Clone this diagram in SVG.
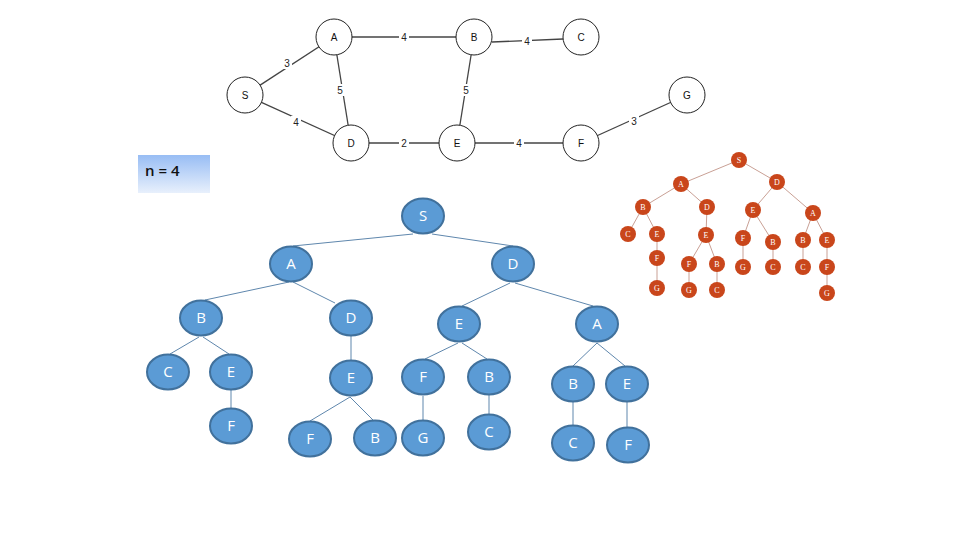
<svg xmlns="http://www.w3.org/2000/svg" width="960" height="540" viewBox="0 0 960 540">
<defs>
<linearGradient id="nbox" x1="0" y1="0" x2="0" y2="1">
<stop offset="0" stop-color="#98bdf4"/>
<stop offset="1" stop-color="#e8f0fc"/>
</linearGradient>
<style>
.gn circle{fill:#fff;stroke:#222;stroke-width:1}
.gn text{font-family:"Liberation Sans",Arial,sans-serif;font-size:10px;fill:#111;text-anchor:middle}
.ge line{stroke:#444;stroke-width:1.3}
.wl rect{fill:#fff}
.wl text{font-family:"Liberation Sans",Arial,sans-serif;font-size:10px;fill:#222;text-anchor:middle}
.bn ellipse{fill:#5b9bd5;stroke:#41719c;stroke-width:2}
.bn text{font-family:"Open Sans","Liberation Sans",sans-serif;font-size:15px;fill:#fff;text-anchor:middle}
.be line{stroke:#5f87ad;stroke-width:1}
.rn circle{fill:#c9461b}
.rn text{font-family:"Liberation Serif",serif;font-size:8px;fill:#fff;text-anchor:middle}
.re line{stroke:#c9a095;stroke-width:1}
</style>
</defs>
<rect width="960" height="540" fill="#fff"/>

<g id="graph-edges" class="ge">
<line x1="245" y1="95" x2="334" y2="37"/>
<line x1="334" y1="37" x2="474" y2="37"/>
<line x1="492" y1="42" x2="563" y2="39"/>
<line x1="334" y1="37" x2="351" y2="143"/>
<line x1="245" y1="95" x2="351" y2="143"/>
<line x1="474" y1="37" x2="457" y2="143"/>
<line x1="351" y1="143" x2="457" y2="143"/>
<line x1="457" y1="143" x2="581" y2="143"/>
<line x1="581" y1="143" x2="687" y2="95"/>
</g>
<g id="graph-weights" class="wl">
<rect x="282" y="57" width="10" height="12"/><text x="287" y="67">3</text>
<rect x="399" y="31" width="10" height="12"/><text x="404" y="41">4</text>
<rect x="522" y="35" width="10" height="12"/><text x="527" y="45">4</text>
<rect x="335" y="84" width="10" height="12"/><text x="340" y="94">5</text>
<rect x="291" y="116" width="10" height="12"/><text x="296" y="126">4</text>
<rect x="461" y="84" width="10" height="12"/><text x="466" y="94">5</text>
<rect x="399" y="137" width="10" height="12"/><text x="404" y="147">2</text>
<rect x="514" y="137" width="10" height="12"/><text x="519" y="147">4</text>
<rect x="629" y="115" width="10" height="12"/><text x="634" y="125">3</text>
</g>
<g id="g-A" class="gn"><circle cx="334" cy="37" r="18"/><text x="334" y="41">A</text></g>
<g id="g-B" class="gn"><circle cx="474" cy="37" r="18"/><text x="474" y="41">B</text></g>
<g id="g-C" class="gn"><circle cx="581" cy="37" r="18"/><text x="581" y="41">C</text></g>
<g id="g-S" class="gn"><circle cx="245" cy="95" r="18"/><text x="245" y="99">S</text></g>
<g id="g-G" class="gn"><circle cx="687" cy="95" r="18"/><text x="687" y="99">G</text></g>
<g id="g-D" class="gn"><circle cx="351" cy="143" r="18"/><text x="351" y="147">D</text></g>
<g id="g-E" class="gn"><circle cx="457" cy="143" r="18"/><text x="457" y="147">E</text></g>
<g id="g-F" class="gn"><circle cx="581" cy="143" r="18"/><text x="581" y="147">F</text></g>

<g id="n-box">
<rect x="138" y="155" width="72" height="38" fill="url(#nbox)"/>
<text x="145" y="176" font-family="'Open Sans','Liberation Sans',sans-serif" font-size="15" font-weight="600" fill="#111">n = 4</text>
</g>

<g id="blue-edges" class="be">
<line x1="413" y1="234" x2="293" y2="246"/>
<line x1="432" y1="234" x2="513" y2="246"/>
<line x1="289" y1="282" x2="205" y2="300"/>
<line x1="293" y1="282" x2="335" y2="303"/>
<line x1="199" y1="337" x2="170" y2="354"/>
<line x1="203" y1="337" x2="229" y2="354"/>
<line x1="231" y1="390" x2="231" y2="408"/>
<line x1="351" y1="336" x2="351" y2="360"/>
<line x1="350" y1="397" x2="310" y2="421"/>
<line x1="350" y1="397" x2="373" y2="420"/>
<line x1="510" y1="283" x2="462" y2="306"/>
<line x1="515" y1="283" x2="593" y2="306"/>
<line x1="458" y1="343" x2="425" y2="359"/>
<line x1="462" y1="343" x2="487" y2="359"/>
<line x1="423" y1="396" x2="423" y2="420"/>
<line x1="489" y1="395" x2="489" y2="414"/>
<line x1="597" y1="343" x2="573" y2="366"/>
<line x1="597" y1="343" x2="625" y2="366"/>
<line x1="573" y1="402" x2="573" y2="425"/>
<line x1="627" y1="402" x2="627" y2="427"/>
</g>
<g id="b-S" class="bn"><ellipse cx="423" cy="216" rx="21" ry="17.5"/><text x="423" y="221">S</text></g>
<g id="b-A" class="bn"><ellipse cx="291" cy="264" rx="21" ry="17.5"/><text x="291" y="269">A</text></g>
<g id="b-D" class="bn"><ellipse cx="513" cy="264" rx="21" ry="17.5"/><text x="513" y="269">D</text></g>
<g id="b-AB" class="bn"><ellipse cx="201" cy="318" rx="21" ry="17.5"/><text x="201" y="323">B</text></g>
<g id="b-AD" class="bn"><ellipse cx="351" cy="318" rx="21" ry="17.5"/><text x="351" y="323">D</text></g>
<g id="b-DE" class="bn"><ellipse cx="459" cy="324" rx="21" ry="17.5"/><text x="459" y="329">E</text></g>
<g id="b-DA" class="bn"><ellipse cx="597" cy="324" rx="21" ry="17.5"/><text x="597" y="329">A</text></g>
<g id="b-ABC" class="bn"><ellipse cx="168" cy="372" rx="21" ry="17.5"/><text x="168" y="377">C</text></g>
<g id="b-ABE" class="bn"><ellipse cx="231" cy="372" rx="21" ry="17.5"/><text x="231" y="377">E</text></g>
<g id="b-ABEF" class="bn"><ellipse cx="231" cy="426" rx="21" ry="17.5"/><text x="231" y="431">F</text></g>
<g id="b-ADE" class="bn"><ellipse cx="351" cy="378" rx="21" ry="17.5"/><text x="351" y="383">E</text></g>
<g id="b-ADEF" class="bn"><ellipse cx="310" cy="439" rx="21" ry="17.5"/><text x="310" y="444">F</text></g>
<g id="b-ADEB" class="bn"><ellipse cx="375" cy="438" rx="21" ry="17.5"/><text x="375" y="443">B</text></g>
<g id="b-DEF" class="bn"><ellipse cx="423" cy="377" rx="21" ry="17.5"/><text x="423" y="382">F</text></g>
<g id="b-DEB" class="bn"><ellipse cx="489" cy="377" rx="21" ry="17.5"/><text x="489" y="382">B</text></g>
<g id="b-DEFG" class="bn"><ellipse cx="423" cy="438" rx="21" ry="17.5"/><text x="423" y="443">G</text></g>
<g id="b-DEBC" class="bn"><ellipse cx="489" cy="432" rx="21" ry="17.5"/><text x="489" y="437">C</text></g>
<g id="b-DAB" class="bn"><ellipse cx="573" cy="384" rx="21" ry="17.5"/><text x="573" y="389">B</text></g>
<g id="b-DAE" class="bn"><ellipse cx="627" cy="384" rx="21" ry="17.5"/><text x="627" y="389">E</text></g>
<g id="b-DABC" class="bn"><ellipse cx="573" cy="443" rx="21" ry="17.5"/><text x="573" y="448">C</text></g>
<g id="b-DAEF" class="bn"><ellipse cx="628" cy="445" rx="21" ry="17.5"/><text x="628" y="450">F</text></g>

<g id="red-edges" class="re">
<line x1="739" y1="160" x2="681" y2="184"/>
<line x1="739" y1="160" x2="777" y2="182"/>
<line x1="681" y1="184" x2="643" y2="207"/>
<line x1="681" y1="184" x2="707" y2="207"/>
<line x1="777" y1="182" x2="753" y2="210"/>
<line x1="777" y1="182" x2="813" y2="213"/>
<line x1="643" y1="207" x2="628" y2="234"/>
<line x1="643" y1="207" x2="657" y2="234"/>
<line x1="657" y1="234" x2="657" y2="288"/>
<line x1="707" y1="207" x2="706" y2="235"/>
<line x1="706" y1="235" x2="689" y2="264"/>
<line x1="706" y1="235" x2="717" y2="264"/>
<line x1="689" y1="264" x2="689" y2="290"/>
<line x1="717" y1="264" x2="717" y2="290"/>
<line x1="753" y1="210" x2="743" y2="238"/>
<line x1="753" y1="210" x2="773" y2="242"/>
<line x1="743" y1="238" x2="743" y2="267"/>
<line x1="773" y1="242" x2="773" y2="267"/>
<line x1="813" y1="213" x2="803" y2="240"/>
<line x1="813" y1="213" x2="827" y2="240"/>
<line x1="803" y1="240" x2="803" y2="267"/>
<line x1="827" y1="240" x2="827" y2="293"/>
</g>
<g id="r-S" class="rn"><circle cx="739" cy="160" r="8"/><text x="739" y="163">S</text></g>
<g id="r-A" class="rn"><circle cx="681" cy="184" r="8"/><text x="681" y="187">A</text></g>
<g id="r-D" class="rn"><circle cx="777" cy="182" r="8"/><text x="777" y="185">D</text></g>
<g id="r-AB" class="rn"><circle cx="643" cy="207" r="8"/><text x="643" y="210">B</text></g>
<g id="r-AD" class="rn"><circle cx="707" cy="207" r="8"/><text x="707" y="210">D</text></g>
<g id="r-DE" class="rn"><circle cx="753" cy="210" r="8"/><text x="753" y="213">E</text></g>
<g id="r-DA" class="rn"><circle cx="813" cy="213" r="8"/><text x="813" y="216">A</text></g>
<g id="r-ABC" class="rn"><circle cx="628" cy="234" r="8"/><text x="628" y="237">C</text></g>
<g id="r-ABE" class="rn"><circle cx="657" cy="234" r="8"/><text x="657" y="237">E</text></g>
<g id="r-ABEF" class="rn"><circle cx="657" cy="258" r="8"/><text x="657" y="261">F</text></g>
<g id="r-ABEFG" class="rn"><circle cx="657" cy="288" r="8"/><text x="657" y="291">G</text></g>
<g id="r-ADE" class="rn"><circle cx="706" cy="235" r="8"/><text x="706" y="238">E</text></g>
<g id="r-ADEF" class="rn"><circle cx="689" cy="264" r="8"/><text x="689" y="267">F</text></g>
<g id="r-ADEB" class="rn"><circle cx="717" cy="264" r="8"/><text x="717" y="267">B</text></g>
<g id="r-ADEFG" class="rn"><circle cx="689" cy="290" r="8"/><text x="689" y="293">G</text></g>
<g id="r-ADEBC" class="rn"><circle cx="717" cy="290" r="8"/><text x="717" y="293">C</text></g>
<g id="r-DEF" class="rn"><circle cx="743" cy="238" r="8"/><text x="743" y="241">F</text></g>
<g id="r-DEB" class="rn"><circle cx="773" cy="242" r="8"/><text x="773" y="245">B</text></g>
<g id="r-DEFG" class="rn"><circle cx="743" cy="267" r="8"/><text x="743" y="270">G</text></g>
<g id="r-DEBC" class="rn"><circle cx="773" cy="267" r="8"/><text x="773" y="270">C</text></g>
<g id="r-DAB" class="rn"><circle cx="803" cy="240" r="8"/><text x="803" y="243">B</text></g>
<g id="r-DAE" class="rn"><circle cx="827" cy="240" r="8"/><text x="827" y="243">E</text></g>
<g id="r-DABC" class="rn"><circle cx="803" cy="267" r="8"/><text x="803" y="270">C</text></g>
<g id="r-DAEF" class="rn"><circle cx="827" cy="267" r="8"/><text x="827" y="270">F</text></g>
<g id="r-DAEFG" class="rn"><circle cx="827" cy="293" r="8"/><text x="827" y="296">G</text></g>
</svg>
